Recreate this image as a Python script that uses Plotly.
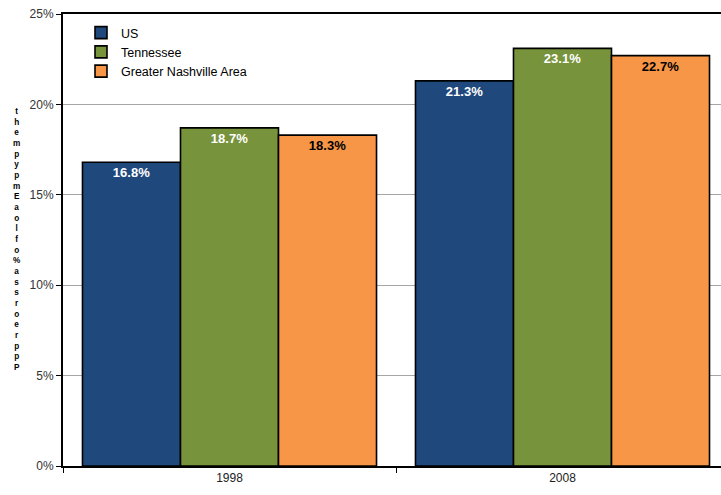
import plotly.graph_objects as go

# data
years = ["1998", "2008"]
us = [16.8, 21.3]
tennessee = [18.7, 23.1]
nashville = [18.3, 22.7]
series_names = ["US", "Tennessee", "Greater Nashville Area"]
# the original's rotated axis title came out as a stacked, jumbled column of glyphs
y_title_glyphs = list("thempypmEaolfo%assroerppP")

colors = ["#1F497D", "#77933C", "#F79646"]
label_colors = ["white", "white", "black"]

fig = go.Figure()
for name, vals, col, lab_col in zip(series_names, [us, tennessee, nashville], colors, label_colors):
    fig.add_trace(go.Bar(
        x=years, y=vals, name=name,
        marker=dict(color=col, line=dict(color="black", width=1.6)),
        text=[f"{v:.1f}%" for v in vals],
        textposition="inside", insidetextanchor="end",
        textfont=dict(family="Liberation Sans, Arial", size=13, color=lab_col),
        texttemplate="<b>%{text}</b>",
    ))

# plot area geometry in pixels
left, top, bottom, width = 63, 14, 466, 658

fig.add_annotation(
    text="<b>" + "<br>".join(y_title_glyphs) + "</b>", showarrow=False,
    xref="paper", yref="paper",
    x=(17 - left) / width, y=(bottom - 239) / (bottom - top),
    xanchor="center", yanchor="middle", align="center",
    font=dict(family="Liberation Sans, Arial", size=8.2, color="black"),
)

fig.update_layout(
    width=721, height=495,
    margin=dict(l=left, r=721 - left - width, t=top, b=495 - bottom, autoexpand=False),
    paper_bgcolor="white", plot_bgcolor="white",
    barmode="group", bargap=0.117, bargroupgap=0,
    font=dict(family="Liberation Sans, Arial", size=12, color="#222222"),
    showlegend=True,
    legend=dict(
        x=18 / width, y=1.0 - 4 / 452, xanchor="left", yanchor="top",
        bgcolor="rgba(0,0,0,0)", font=dict(size=12.5, color="black"),
        tracegroupgap=0, itemwidth=30,
    ),
    xaxis=dict(
        range=[-0.5, 1.476], showline=True, linecolor="black", linewidth=2,
        mirror=True, ticks="outside", tickson="boundaries", ticklen=5,
        tickcolor="black", tickfont=dict(size=12, color="#222222"),
        showgrid=False, automargin=False,
    ),
    yaxis=dict(
        range=[0, 25], dtick=5, ticksuffix="%",
        showline=True, linecolor="black", linewidth=2,
        ticks="outside", ticklen=5, tickcolor="black",
        showgrid=True, gridcolor="#A6A6A6", gridwidth=1,
        tickfont=dict(size=12, color="#333333"),
        zeroline=False, automargin=False,
    ),
)

# drop the browser's default body margin so the figure sits at the page corner
fig.write_html("out.html", config={"displayModeBar": False},
               post_script="document.body.style.margin='0';")
